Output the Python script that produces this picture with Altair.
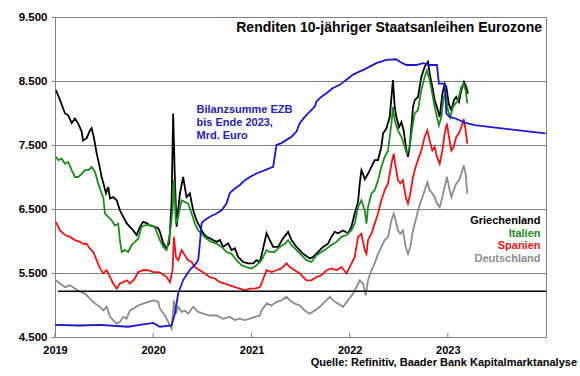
import altair as alt
import pandas as pd

START = pd.Timestamp("2019-01-01")

def to_dates(ts):
    return [START + pd.Timedelta(days=float(t) * 365.25) for t in ts]

# ---- 10y yields (%), time in years since 1 Jan 2019 ----
gr_t = [0.010, 0.051, 0.102, 0.135, 0.170, 0.203, 0.234, 0.272, 0.285, 0.322, 0.356, 0.373, 0.397, 0.424, 0.451, 0.475, 0.498, 0.519, 0.542, 0.560, 0.593, 0.628, 0.661, 0.695, 0.729, 0.763, 0.797, 0.831, 0.865, 0.898, 0.933, 0.966, 1.017, 1.051, 1.068, 1.102, 1.136, 1.163, 1.187, 1.203, 1.221, 1.238, 1.254, 1.272, 1.305, 1.322, 1.339, 1.373, 1.407, 1.441, 1.475, 1.509, 1.543, 1.577, 1.610, 1.645, 1.679, 1.712, 1.763, 1.798, 1.831, 1.865, 1.916, 1.966, 2.017, 2.052, 2.085, 2.103, 2.154, 2.187, 2.221, 2.272, 2.322, 2.373, 2.408, 2.459, 2.526, 2.594, 2.628, 2.679, 2.729, 2.780, 2.814, 2.848, 2.882, 2.933, 2.984, 3.018, 3.052, 3.085, 3.103, 3.120, 3.136, 3.154, 3.187, 3.222, 3.255, 3.289, 3.323, 3.340, 3.374, 3.408, 3.441, 3.459, 3.476, 3.503, 3.527, 3.550, 3.578, 3.594, 3.611, 3.629, 3.645, 3.662, 3.696, 3.730, 3.764, 3.798, 3.815, 3.842, 3.866, 3.889, 3.917, 3.944, 3.967, 3.985, 4.008, 4.036, 4.062, 4.086, 4.113, 4.137, 4.164, 4.188, 4.204]
gr_y = [4.40, 4.18, 3.89, 3.85, 3.68, 3.78, 3.68, 3.49, 3.30, 3.35, 3.52, 3.57, 3.35, 3.02, 2.76, 2.50, 2.32, 2.14, 2.28, 2.03, 2.06, 1.99, 1.77, 1.63, 1.49, 1.41, 1.33, 1.23, 1.41, 1.52, 1.49, 1.44, 1.41, 1.38, 1.30, 1.05, 0.94, 1.05, 1.93, 3.89, 2.43, 1.41, 1.77, 2.14, 2.50, 2.28, 2.06, 2.14, 1.77, 1.55, 1.41, 1.27, 1.19, 1.16, 1.12, 1.08, 1.12, 0.97, 1.05, 0.90, 0.94, 0.75, 0.64, 0.61, 0.61, 0.68, 0.64, 0.79, 1.27, 1.12, 0.97, 0.97, 1.16, 1.30, 1.12, 0.97, 0.82, 0.72, 0.75, 0.86, 0.97, 1.04, 1.19, 1.30, 1.27, 1.33, 1.27, 1.41, 1.70, 1.95, 2.36, 2.65, 2.57, 2.45, 2.57, 2.72, 2.87, 2.87, 3.16, 3.45, 3.56, 3.81, 4.62, 4.03, 3.81, 3.59, 3.70, 3.52, 3.08, 2.94, 3.16, 3.59, 4.03, 4.18, 4.25, 4.69, 4.91, 5.02, 4.76, 4.47, 4.18, 4.03, 3.81, 4.32, 4.54, 4.47, 4.11, 3.96, 4.18, 4.25, 4.14, 4.40, 4.58, 4.47, 4.32]

it_t = [0.010, 0.034, 0.068, 0.102, 0.135, 0.170, 0.203, 0.237, 0.272, 0.305, 0.339, 0.373, 0.407, 0.440, 0.475, 0.491, 0.509, 0.542, 0.577, 0.610, 0.644, 0.661, 0.679, 0.712, 0.746, 0.780, 0.814, 0.847, 0.882, 0.916, 0.966, 1.017, 1.068, 1.102, 1.136, 1.170, 1.197, 1.211, 1.231, 1.254, 1.289, 1.322, 1.356, 1.391, 1.424, 1.458, 1.492, 1.543, 1.594, 1.645, 1.696, 1.747, 1.798, 1.848, 1.899, 1.950, 2.001, 2.052, 2.103, 2.154, 2.187, 2.238, 2.289, 2.340, 2.373, 2.408, 2.459, 2.509, 2.560, 2.611, 2.662, 2.713, 2.764, 2.814, 2.866, 2.917, 2.967, 3.018, 3.052, 3.085, 3.120, 3.154, 3.171, 3.187, 3.222, 3.255, 3.289, 3.323, 3.357, 3.391, 3.425, 3.441, 3.459, 3.492, 3.527, 3.561, 3.584, 3.611, 3.639, 3.662, 3.696, 3.730, 3.764, 3.787, 3.815, 3.842, 3.866, 3.889, 3.909, 3.934, 3.957, 3.978, 4.001, 4.025, 4.052, 4.079, 4.103, 4.137, 4.161, 4.181, 4.198]
it_y = [2.94, 2.87, 2.90, 2.79, 2.83, 2.65, 2.50, 2.50, 2.57, 2.65, 2.65, 2.72, 2.61, 2.36, 2.14, 2.06, 1.70, 1.63, 1.55, 1.44, 1.48, 1.12, 0.86, 0.90, 0.86, 1.01, 1.08, 1.15, 1.41, 1.44, 1.45, 1.40, 1.12, 0.97, 0.90, 1.26, 1.77, 2.43, 1.48, 1.63, 1.99, 1.95, 1.92, 1.70, 1.48, 1.33, 1.26, 1.15, 1.08, 1.04, 0.97, 0.86, 0.82, 0.68, 0.57, 0.53, 0.50, 0.57, 0.68, 0.90, 0.86, 0.86, 0.97, 1.04, 1.12, 1.01, 0.90, 0.79, 0.68, 0.64, 0.79, 0.86, 0.93, 1.01, 1.08, 1.19, 1.23, 1.33, 1.48, 1.84, 1.99, 1.77, 1.48, 1.84, 2.14, 2.21, 2.43, 2.72, 2.94, 3.08, 3.67, 4.03, 3.74, 3.52, 3.38, 3.16, 3.01, 3.16, 3.59, 3.89, 3.96, 4.40, 4.69, 4.83, 4.62, 4.32, 4.03, 3.81, 3.63, 3.81, 4.25, 4.32, 3.96, 3.81, 4.03, 4.11, 4.18, 4.47, 4.54, 4.40, 4.11]

es_t = [0.010, 0.051, 0.102, 0.153, 0.203, 0.254, 0.288, 0.322, 0.356, 0.390, 0.424, 0.458, 0.491, 0.526, 0.560, 0.593, 0.628, 0.661, 0.695, 0.729, 0.763, 0.814, 0.847, 0.898, 0.949, 1.000, 1.051, 1.085, 1.136, 1.170, 1.197, 1.211, 1.231, 1.254, 1.289, 1.322, 1.356, 1.391, 1.424, 1.475, 1.526, 1.577, 1.628, 1.679, 1.729, 1.780, 1.831, 1.882, 1.933, 1.984, 2.035, 2.085, 2.103, 2.154, 2.204, 2.255, 2.306, 2.357, 2.391, 2.441, 2.492, 2.560, 2.611, 2.662, 2.713, 2.764, 2.814, 2.866, 2.917, 2.967, 3.001, 3.052, 3.085, 3.120, 3.154, 3.171, 3.187, 3.222, 3.255, 3.289, 3.323, 3.357, 3.391, 3.425, 3.449, 3.469, 3.492, 3.517, 3.543, 3.571, 3.594, 3.618, 3.645, 3.672, 3.696, 3.730, 3.764, 3.791, 3.815, 3.842, 3.866, 3.889, 3.917, 3.944, 3.967, 3.991, 4.011, 4.036, 4.059, 4.086, 4.113, 4.137, 4.161, 4.181, 4.198]
es_y = [1.52, 1.33, 1.23, 1.19, 1.12, 1.08, 1.04, 1.04, 0.93, 0.86, 0.68, 0.50, 0.39, 0.46, 0.31, 0.17, 0.06, 0.17, 0.20, 0.24, 0.17, 0.28, 0.42, 0.46, 0.46, 0.42, 0.42, 0.39, 0.31, 0.20, 0.46, 1.19, 0.75, 0.68, 0.90, 0.79, 0.68, 0.64, 0.53, 0.46, 0.39, 0.31, 0.28, 0.20, 0.17, 0.13, 0.09, 0.06, 0.02, 0.06, 0.06, 0.09, 0.17, 0.46, 0.42, 0.46, 0.50, 0.61, 0.53, 0.46, 0.39, 0.24, 0.24, 0.31, 0.35, 0.46, 0.50, 0.46, 0.53, 0.39, 0.53, 0.75, 1.19, 1.26, 0.90, 0.82, 1.12, 1.26, 1.48, 1.70, 1.99, 2.21, 2.36, 2.79, 3.01, 2.72, 2.43, 2.36, 2.43, 2.06, 1.92, 2.14, 2.50, 2.72, 2.87, 3.08, 3.38, 3.52, 3.30, 3.08, 3.16, 2.94, 2.79, 3.08, 3.45, 3.67, 3.38, 3.08, 3.16, 3.38, 3.45, 3.59, 3.77, 3.52, 3.23]

de_t = [0.010, 0.051, 0.102, 0.153, 0.203, 0.254, 0.305, 0.356, 0.407, 0.458, 0.491, 0.526, 0.560, 0.593, 0.628, 0.661, 0.695, 0.729, 0.763, 0.797, 0.847, 0.898, 0.949, 1.000, 1.051, 1.068, 1.119, 1.153, 1.187, 1.211, 1.231, 1.254, 1.289, 1.322, 1.356, 1.407, 1.458, 1.509, 1.577, 1.645, 1.712, 1.780, 1.831, 1.882, 1.933, 1.984, 2.035, 2.085, 2.103, 2.154, 2.204, 2.255, 2.306, 2.357, 2.391, 2.441, 2.492, 2.543, 2.594, 2.645, 2.696, 2.747, 2.798, 2.831, 2.882, 2.933, 2.984, 3.035, 3.069, 3.103, 3.136, 3.164, 3.187, 3.222, 3.255, 3.289, 3.323, 3.357, 3.391, 3.425, 3.449, 3.469, 3.492, 3.517, 3.543, 3.571, 3.594, 3.618, 3.645, 3.672, 3.696, 3.730, 3.764, 3.791, 3.815, 3.842, 3.866, 3.889, 3.917, 3.944, 3.967, 3.991, 4.011, 4.036, 4.059, 4.086, 4.113, 4.137, 4.161, 4.181, 4.198]
de_y = [0.24, 0.17, 0.09, 0.13, 0.06, -0.01, -0.05, -0.16, -0.27, -0.34, -0.42, -0.34, -0.56, -0.63, -0.71, -0.67, -0.56, -0.60, -0.42, -0.38, -0.31, -0.27, -0.23, -0.20, -0.23, -0.38, -0.53, -0.67, -0.82, -0.20, -0.49, -0.34, -0.45, -0.42, -0.49, -0.34, -0.45, -0.49, -0.53, -0.53, -0.60, -0.56, -0.63, -0.60, -0.63, -0.60, -0.56, -0.53, -0.42, -0.27, -0.31, -0.23, -0.20, -0.12, -0.20, -0.27, -0.31, -0.42, -0.49, -0.42, -0.34, -0.23, -0.12, -0.20, -0.27, -0.34, -0.20, -0.05, 0.09, 0.24, 0.17, -0.09, 0.24, 0.46, 0.61, 0.82, 0.97, 1.12, 1.19, 1.55, 1.70, 1.55, 1.33, 1.26, 1.33, 0.97, 0.82, 0.97, 1.33, 1.55, 1.77, 1.99, 2.21, 2.39, 2.21, 2.14, 2.06, 1.92, 1.84, 2.06, 2.28, 2.50, 2.28, 2.06, 2.21, 2.36, 2.43, 2.57, 2.76, 2.57, 2.14]

# ---- ECB balance sheet (bn EUR) ----
ezb_t = [0.0, 0.254, 0.458, 0.746, 0.865, 1.000, 1.068, 1.187, 1.221, 1.254, 1.305, 1.373, 1.424, 1.458, 1.475, 1.492, 1.526, 1.577, 1.645, 1.696, 1.747, 1.780, 1.831, 1.882, 1.933, 1.984, 2.052, 2.221, 2.255, 2.306, 2.357, 2.408, 2.459, 2.492, 2.543, 2.594, 2.645, 2.662, 2.713, 2.764, 2.831, 2.899, 2.967, 3.035, 3.103, 3.136, 3.272, 3.374, 3.476, 3.510, 3.578, 3.679, 3.747, 3.815, 3.889, 3.909, 3.967, 3.985, 4.018, 4.086, 4.171, 4.273, 4.995]
ezb_v = [4690, 4680, 4690, 4660, 4690, 4720, 4660, 4680, 4870, 5180, 5390, 5550, 5625, 5700, 5960, 6275, 6330, 6380, 6430, 6480, 6590, 6750, 6820, 6875, 6950, 7000, 7055, 7160, 7500, 7530, 7580, 7630, 7710, 7840, 7940, 8020, 8100, 8180, 8255, 8310, 8390, 8440, 8520, 8600, 8650, 8670, 8780, 8830, 8840, 8800, 8750, 8750, 8780, 8750, 8750, 8460, 8460, 7990, 7940, 7910, 7850, 7810, 7680]

years = [2019, 2020, 2021, 2022, 2023]
left_ticks = [4500, 5500, 6500, 7500, 8500, 9500]
right_ticks = [-1, 0, 1, 2, 3, 4, 5, 6]

series = [
    ("Griechenland", gr_t, gr_y, "#000000"),
    ("Italien", it_t, it_y, "#1e8c1e"),
    ("Spanien", es_t, es_y, "#ee1515"),
    ("Deutschland", de_t, de_y, "#8c8c8c"),
]

FONT = "Liberation Sans"
x_scale = alt.Scale(domain=[alt.DateTime(year=2019, month=1, date=1),
                            alt.DateTime(year=2024, month=1, date=1)])
x_axis = alt.Axis(
    values=[alt.DateTime(year=y, month=1, date=1) for y in years],
    format="%Y", title=None, grid=False, domain=False,
    ticks=True, tickSize=0,
    labelPadding=7, labelFontSize=11, labelFontWeight="bold",
    labelFont=FONT, labelColor="#000000", labelFlush=False,
)
y_right_scale = alt.Scale(domain=[-1, 6], nice=False, zero=False)

yield_layers = []
for i, (name, ts, ys, col) in enumerate(series):
    df = pd.DataFrame({"date": to_dates(ts), "value": ys})
    if i == 0:
        yax = alt.Axis(orient="right", values=right_ticks, title=None, grid=False,
                       domain=False, tickSize=4, tickColor="#808080", labelPadding=5,
                       labelFontSize=11.5, labelFontWeight="bold", labelFont=FONT,
                       labelColor="#000000", labelFlush=False)
    else:
        yax = None
    yield_layers.append(
        alt.Chart(df).mark_line(color=col, strokeWidth=1.8).encode(
            x=alt.X("date:T", scale=x_scale, axis=x_axis),
            y=alt.Y("value:Q", scale=y_right_scale, axis=yax),
        )
    )

zero_line = alt.Chart(pd.DataFrame({"value": [0]})).mark_rule(
    color="#000000", strokeWidth=1.6
).encode(y=alt.Y("value:Q", scale=y_right_scale, axis=None), x=alt.value(3), x2=alt.value(491))

yields = alt.layer(*yield_layers, zero_line)

ezb_df = pd.DataFrame({"date": to_dates(ezb_t), "value": ezb_v})
ezb = alt.Chart(ezb_df).mark_line(color="#1a1acc", strokeWidth=1.8).encode(
    x=alt.X("date:T", scale=x_scale, axis=x_axis),
    y=alt.Y(
        "value:Q",
        scale=alt.Scale(domain=[4500, 9500], nice=False, zero=False),
        axis=alt.Axis(orient="left", values=left_ticks, title=None, grid=True,
                      gridColor="#808080", gridWidth=1, domain=False, tickSize=4,
                      tickColor="#808080", labelPadding=4, labelFontSize=11.5,
                      labelFontWeight="bold", labelFont=FONT, labelColor="#000000",
                      labelFlush=False,
                      labelExpr="replace(format(datum.value, ',.0f'), ',', '.')"),
    ),
)

year_ticks = alt.Chart(
    pd.DataFrame({"date": [pd.Timestamp(f"{y}-01-01") for y in years]})
).mark_rule(color="#808080", strokeWidth=1).encode(
    x=alt.X("date:T", scale=x_scale, axis=x_axis),
    y=alt.value(316), y2=alt.value(320),
)

def label(text, x, y, color, align="left", size=11):
    return alt.Chart(pd.DataFrame({"t": [text]})).mark_text(
        align=align, baseline="middle", font=FONT, fontWeight="bold",
        fontSize=size, color=color,
    ).encode(text="t:N", x=alt.value(x), y=alt.value(y))

texts = [
    label("Renditen 10-jähriger Staatsanleihen Eurozone", 487, 10.5, "#000000", "right", 14),
    label("Bilanzsumme EZB", 141.5, 93, "#2323b4"),
    label("bis Ende 2023,", 141.5, 106, "#2323b4"),
    label("Mrd. Euro", 141.5, 118.5, "#2323b4"),
    label("Griechenland", 485.5, 204, "#000000", "right"),
    label("Italien", 485.5, 216.5, "#1e8c1e", "right"),
    label("Spanien", 485.5, 229, "#ee1515", "right"),
    label("Deutschland", 485.5, 241.5, "#8c8c8c", "right"),
    label("Quelle: Refinitiv, Baader Bank Kapitalmarktanalyse", 522, 346, "#000000", "right"),
]

chart = alt.layer(yields, ezb, year_ticks, *texts).resolve_scale(y="independent").properties(
    width=491, height=320,
    autosize=alt.AutoSizeParams(type="none"),
    padding={"left": 55, "top": 17, "right": 34, "bottom": 39},
    background="#ffffff",
).configure_view(stroke="#808080", strokeWidth=1)

chart.save("out.html", embed_options={"renderer": "svg", "actions": False})
